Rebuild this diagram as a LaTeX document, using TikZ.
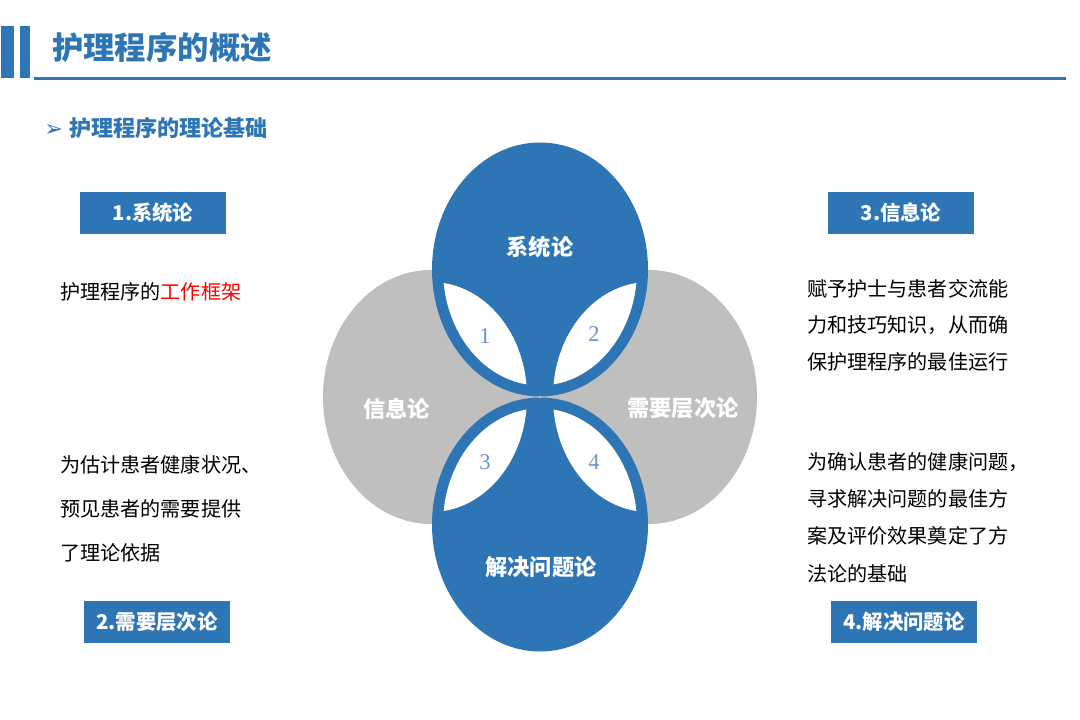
\documentclass[tikz,border=0pt]{standalone}
\usepackage{fontspec}
\usepackage{xcolor}
\usepackage{tikz}
\setmainfont{Noto Sans CJK SC}
\newfontfamily\chiffres{Liberation Serif}
\newfontfamily\puce{DejaVu Sans}
\definecolor{bleu}{RGB}{46,117,182}
\definecolor{gris}{RGB}{191,191,191}
\definecolor{bleuclair}{RGB}{110,145,205}
\definecolor{rouge}{RGB}{255,0,0}
\newcommand{\taille}[2]{\fontsize{#1}{#2}\selectfont}

\begin{document}
\begin{tikzpicture}[x=0.025cm, y=-0.025cm,
  boite/.style={fill=bleu, text=white, font=\taille{14.5}{17}\bfseries,
    minimum width=3.625cm, minimum height=1.05cm, inner sep=0pt},
  corps/.style={anchor=west, align=left, inner sep=0pt, text=black},
  pétale/.style={text=white, font=\taille{15.8}{19}\bfseries},
  numero/.style={text=bleuclair, font=\chiffres\taille{16}{19}}]
  \fill[white] (0,0) rectangle (1080,720);
  \useasboundingbox (0,0) rectangle (1080,720);
  % L'en-tête : barres, titre et filet.
  \fill[bleu] (1,26) rectangle (14,78);
  \fill[bleu] (20,26) rectangle (30,78);
  \draw[bleu, line width=2.3pt] (34,78.3) -- (1066,78.3);
  \node[anchor=west, inner sep=0pt, text=bleu, font=\taille{22.3}{26}\bfseries]
    (titre) at (52,48) {护理程序的概述};
  \node[anchor=west, inner sep=0pt, text=bleu, font=\taille{15.7}{19}\bfseries]
    (soustitre) at (44,128) {{\puce\bfseries\taille{16}{19}➢}\hspace{0.28em}护理程序的理论基础};
  % Les quatre ellipses : grises d'abord, bleues par-dessus.
  \fill[gris] (431,397) ellipse[x radius=108, y radius=127];
  \fill[gris] (649,397) ellipse[x radius=108, y radius=127];
  \fill[bleu] (540,269.5) ellipse[x radius=108, y radius=127];
  \fill[bleu] (540,524.5) ellipse[x radius=108, y radius=127];
  % Les pétales blancs, intersections des ellipses réduites.
  \foreach \bx/\by/\gx in {540/269.5/431, 540/269.5/649, 540/524.5/431, 540/524.5/649}
  {
    \begin{scope}
      \clip (\bx,\by) ellipse[x radius=97, y radius=116];
      \fill[white] (\gx,397) ellipse[x radius=96, y radius=115];
    \end{scope}
  }
  \node[pétale] (systeme) at (540,247) {系统论};
  \node[pétale] (information) at (396.5,408.5) {信息论};
  \node[pétale] (besoins) at (683,408.5) {需要层次论};
  \node[pétale] (problemes) at (541,567) {解决问题论};
  \node[numero] (un) at (485,336) {1};
  \node[numero] (deux) at (594,334) {2};
  \node[numero] (trois) at (485,462) {3};
  \node[numero] (quatre) at (594,462) {4};
  % Les titres encadrés.
  \node[boite] (boite1) at (153,213) {1.系统论};
  \node[boite] (boite3) at (901,213) {3.信息论};
  \node[boite] (boite2) at (157,622) {2.需要层次论};
  \node[boite] (boite4) at (904,622) {4.解决问题论};
  % Les textes.
  \node[corps, font=\taille{14.3}{26}] (texte1) at (60,292)
    {护理程序的\textcolor{rouge}{工作框架}};
  \node[corps, font=\taille{14.3}{26}] (texte3) at (807,325)
    {赋予护士与患者交流能\\力和技巧知识，从而确\\保护理程序的最佳运行};
  \node[corps, font=\taille{14.3}{31.2}] (texte2) at (60,509)
    {为估计患者健康状况、\\预见患者的需要提供\\了理论依据};
  \node[corps, font=\taille{14.3}{26.6}] (texte4) at (807,517.5)
    {为确认患者的健康问题，\\寻求解决问题的最佳方\\案及评价效果奠定了方\\法论的基础};
\end{tikzpicture}
\end{document}
